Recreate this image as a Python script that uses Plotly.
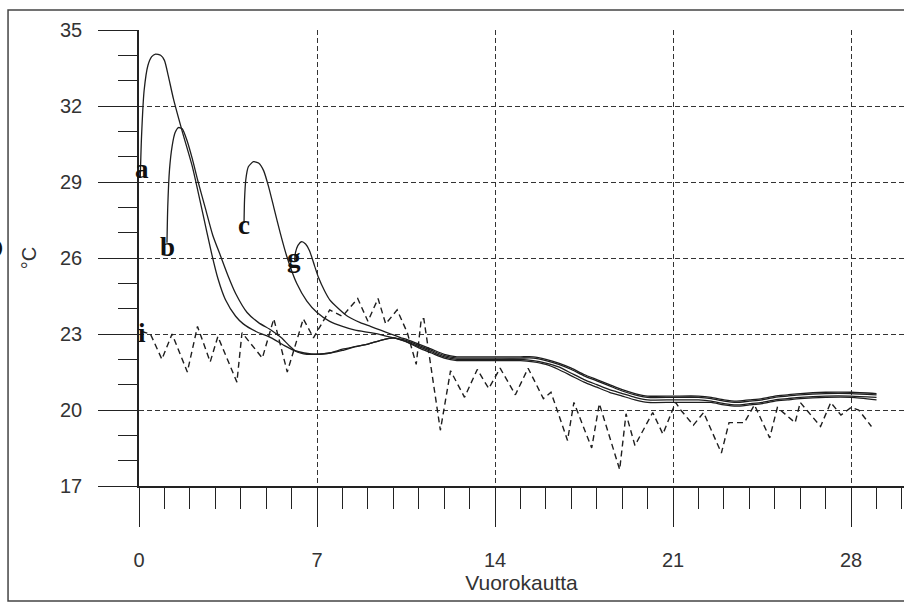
import plotly.graph_objects as go

# ---- data ----
a_days = [0.05, 0.1, 0.2, 0.35, 0.5, 0.65, 0.85, 1.0, 1.15, 1.35, 1.7, 2.1, 2.5, 2.85, 3.1, 3.4, 3.8, 4.1, 4.6, 5.2, 5.7, 6.1, 6.5, 7.0, 7.5, 8.0, 8.5, 9.0, 9.5, 10.0]
a_temp = [29.2, 30.8, 32.6, 33.6, 33.95, 34.05, 34.0, 33.8, 33.2, 32.3, 31.0, 29.6, 27.8, 26.2, 25.2, 24.35, 23.7, 23.4, 23.1, 22.85, 22.55, 22.35, 22.25, 22.2, 22.25, 22.35, 22.5, 22.6, 22.75, 22.85]

b_days = [1.1, 1.13, 1.2, 1.3, 1.42, 1.55, 1.7, 1.9, 2.1, 2.3, 2.6, 2.9, 3.2, 3.5, 3.8, 4.25, 4.7, 5.2, 5.6, 5.9, 6.2, 6.6, 7.0, 7.5, 8.0, 8.5, 9.0, 9.5, 10.0]
b_temp = [26.6, 28.0, 29.5, 30.4, 30.95, 31.15, 31.1, 30.6, 29.9, 29.1, 28.0, 26.9, 26.1, 25.3, 24.6, 23.85, 23.45, 23.15, 22.85, 22.55, 22.3, 22.2, 22.2, 22.25, 22.4, 22.5, 22.6, 22.75, 22.85]

c_days = [4.13, 4.15, 4.2, 4.3, 4.5, 4.7, 4.9, 5.1, 5.3, 5.55, 5.8, 6.2, 6.6, 7.0, 7.5, 8.0, 8.5, 9.1, 9.6, 10.0]
c_temp = [27.4, 28.3, 29.1, 29.6, 29.8, 29.75, 29.45, 28.8, 28.0, 27.0, 26.1, 25.0, 24.3, 23.85, 23.5, 23.3, 23.15, 23.05, 22.95, 22.85]

g_days = [6.12, 6.15, 6.25, 6.4, 6.55, 6.7, 6.9, 7.05, 7.3, 7.5, 7.85, 8.2, 8.7, 9.1, 9.5, 9.9, 10.3]
g_temp = [25.9, 26.2, 26.5, 26.65, 26.55, 26.3, 25.7, 25.25, 24.7, 24.35, 24.0, 23.7, 23.45, 23.3, 23.15, 23.0, 22.85]

tail_days = [10.5, 11.0, 11.5, 12.0, 12.5, 13.0, 14.0, 15.0, 15.5, 16.0, 16.5, 17.0, 17.5, 18.0, 18.5, 19.0, 19.5, 20.0, 21.0, 22.0, 22.5, 23.0, 23.5, 24.0, 24.5, 25.0, 25.5, 26.0, 27.0, 28.0, 29.0]
a_tail = [22.7, 22.45, 22.25, 22.05, 21.95, 21.95, 21.95, 21.95, 21.9, 21.8, 21.6, 21.35, 21.1, 20.9, 20.7, 20.55, 20.4, 20.3, 20.3, 20.3, 20.3, 20.2, 20.15, 20.2, 20.25, 20.35, 20.4, 20.45, 20.5, 20.5, 20.4]
b_tail = [22.7, 22.5, 22.3, 22.1, 22.0, 22.0, 22.0, 22.0, 21.95, 21.85, 21.7, 21.45, 21.2, 21.0, 20.8, 20.65, 20.5, 20.4, 20.4, 20.4, 20.35, 20.25, 20.2, 20.25, 20.3, 20.4, 20.45, 20.5, 20.55, 20.55, 20.5]
c_tail = [22.75, 22.55, 22.35, 22.15, 22.05, 22.05, 22.05, 22.05, 22.05, 21.95, 21.8, 21.6, 21.35, 21.15, 20.95, 20.75, 20.6, 20.5, 20.5, 20.5, 20.45, 20.35, 20.3, 20.35, 20.4, 20.5, 20.55, 20.6, 20.65, 20.65, 20.6]
g_tail = [22.8, 22.6, 22.4, 22.2, 22.1, 22.1, 22.1, 22.1, 22.1, 22.0, 21.85, 21.65, 21.4, 21.2, 21.0, 20.8, 20.65, 20.55, 20.55, 20.55, 20.5, 20.4, 20.35, 20.4, 20.45, 20.55, 20.6, 20.65, 20.7, 20.7, 20.65]

i_days = [0.1, 0.45, 0.9, 1.3, 1.9, 2.3, 2.8, 3.1, 3.85, 4.05, 4.85, 5.3, 5.83, 6.46, 6.86, 7.5, 8.0, 8.6, 9.0, 9.4, 9.7, 10.15, 10.55, 10.9, 11.1, 11.2, 11.85, 12.25, 12.8, 13.3, 13.75, 14.2, 14.8, 15.3, 15.9, 16.2, 16.85, 17.1, 17.8, 18.1, 18.9, 19.15, 19.5, 20.2, 20.6, 21.1, 21.3, 21.8, 22.2, 22.9, 23.2, 23.8, 24.2, 24.8, 25.1, 25.8, 26.0, 26.8, 27.2, 27.6, 28.0, 28.3, 28.8]
i_temp = [23.1, 23.0, 22.0, 23.0, 21.5, 23.3, 21.9, 22.9, 21.1, 23.05, 22.05, 23.6, 21.5, 23.6, 22.85, 23.95, 23.7, 24.4, 23.5, 24.4, 23.4, 23.95, 23.05, 21.8, 23.6, 23.6, 19.2, 21.55, 20.5, 21.6, 20.85, 21.65, 20.6, 21.65, 20.45, 20.7, 18.8, 20.3, 18.5, 20.25, 17.65, 19.85, 18.6, 19.9, 19.05, 20.3, 20.0, 19.4, 19.9, 18.3, 19.5, 19.5, 20.2, 18.9, 20.1, 19.5, 20.3, 19.35, 20.3, 19.8, 20.1, 20.0, 19.35]

labels = ["a", "b", "c", "g", "i"]
label_days = [0.12, 1.14, 4.13, 6.1, 0.1]
label_temp = [29.5, 26.45, 27.3, 26.0, 23.05]

x_ticks = [0, 7, 14, 21, 28]
y_ticks = [17, 20, 23, 26, 29, 32, 35]

LINE = "#1e1e1e"
fig = go.Figure()

for d, t, dt, tt in [(a_days, a_temp, tail_days, a_tail), (b_days, b_temp, tail_days, b_tail),
                     (c_days, c_temp, tail_days, c_tail), (g_days, g_temp, tail_days, g_tail)]:
    fig.add_trace(go.Scatter(x=d + dt, y=t + tt, mode="lines",
                             line=dict(color=LINE, width=1.3, shape="spline", smoothing=0.6),
                             showlegend=False, hoverinfo="skip"))

fig.add_trace(go.Scatter(x=i_days, y=i_temp, mode="lines",
                         line=dict(color=LINE, width=1.4, dash="6px,4px"),
                         showlegend=False, hoverinfo="skip"))

for txt, d, t in zip(labels, label_days, label_temp):
    fig.add_annotation(x=d, y=t, text="<b>" + txt + "</b>", showarrow=False,
                       font=dict(family="Liberation Serif", size=27, color="#111"),
                       xanchor="center", yanchor="middle")

fig.update_xaxes(range=[0, 30.08], tickvals=x_ticks, ticktext=[str(v) for v in x_ticks],
                 showline=True, linecolor="#222", linewidth=1.5,
                 ticks="outside", ticklen=39, tickwidth=1.3, tickcolor="#222",
                 minor=dict(dtick=1, ticks="outside", ticklen=21, tickwidth=1.3, tickcolor="#222", showgrid=False),
                 showgrid=True, gridcolor="#333", gridwidth=1.1, griddash="5px,3px",
                 zeroline=False, ticklabelstandoff=16,
                 tickfont=dict(family="Liberation Sans", size=20, color="#333"),
                 title=dict(text="Vuorokautta", font=dict(family="Liberation Sans", size=21, color="#333"), standoff=6),
                 automargin=False)
fig.update_yaxes(range=[17, 35], tickvals=y_ticks, ticktext=[str(v) for v in y_ticks],
                 showline=True, linecolor="#222", linewidth=1.5,
                 ticks="outside", ticklen=39, tickwidth=1.3, tickcolor="#222",
                 minor=dict(dtick=1, ticks="outside", ticklen=19, tickwidth=1.3, tickcolor="#222", showgrid=False),
                 showgrid=True, gridcolor="#333", gridwidth=1.1, griddash="5px,3px",
                 zeroline=False, ticklabelstandoff=12,
                 tickfont=dict(family="Liberation Sans", size=20, color="#333"),
                 title=dict(text="°C", font=dict(family="Liberation Sans", size=20, color="#333"), standoff=18),
                 automargin=False)

# outer frame of the scanned figure
fig.add_shape(type="rect", xref="paper", yref="paper", x0=-0.1712, x1=1.01, y0=-0.2522, y1=1.0439,
              line=dict(color="#444", width=1.5), fillcolor="rgba(0,0,0,0)", layer="below")
# clipped panel letter at far left
fig.add_annotation(xref="paper", yref="paper", x=-0.1755, y=0.52, text="<b>D</b>", showarrow=False,
                   xanchor="right", yanchor="middle",
                   font=dict(family="Liberation Sans", size=28, color="#111"))

fig.update_layout(width=904, height=604, margin=dict(l=139, r=0, t=30, b=118),
                  paper_bgcolor="white", plot_bgcolor="white")

fig.write_html("out.html", config={"displayModeBar": False},
               post_script="document.body.style.margin='0';")
